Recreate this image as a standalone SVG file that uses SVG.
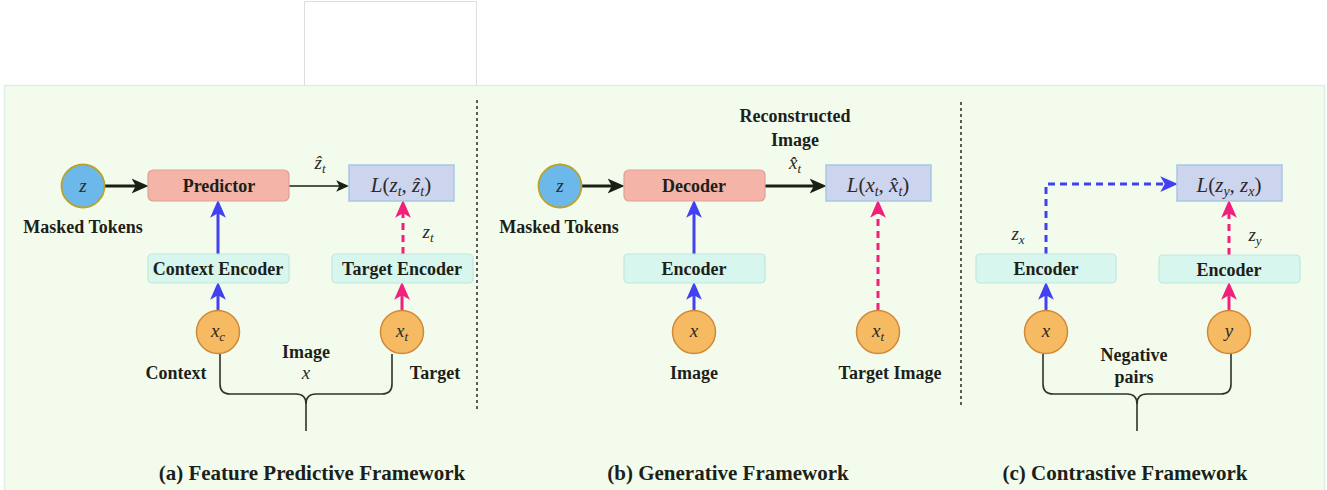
<svg xmlns="http://www.w3.org/2000/svg" width="1327" height="490" viewBox="0 0 1327 490">
<style>
.lbl{font-family:'Liberation Serif','Tinos','DejaVu Serif','Noto Serif',serif;font-weight:bold;font-size:18px;fill:#1c1f1a;text-anchor:middle}
.ttl{font-family:'Liberation Serif','Tinos','DejaVu Serif','Noto Serif',serif;font-weight:bold;font-size:21px;fill:#1c1f1a;text-anchor:middle}
.m{font-family:'Liberation Serif','Tinos','DejaVu Serif','Noto Serif',serif;font-style:italic;font-size:19px;fill:#2a2a2a;text-anchor:middle}
.lm{font-size:21px}
.up{font-style:normal}
.pred{fill:#f4b4a8;stroke:#dea095;stroke-width:1.2}
.enc{fill:#d6f6ee;stroke:#c0e6dc;stroke-width:1.2}
.loss{fill:#cdd4ee;stroke:#a6c8e2;stroke-width:1.5}
.zc{fill:#6cb8ea;stroke:#b9a32c;stroke-width:1.8}
.xc{fill:#f5ba62;stroke:#d0893a;stroke-width:1.5}
.blk{fill:none;stroke:#1a1f16;stroke-width:3}
.thin{fill:none;stroke:#1a1f16;stroke-width:1.3}
.blu{fill:none;stroke:#4141f0;stroke-width:3}
.pnk{fill:none;stroke:#f0207c;stroke-width:3}
.dash{stroke-dasharray:7 5}
.brace{fill:none;stroke:#2e3328;stroke-width:1.6}
.sep{fill:none;stroke:#1a1a1a;stroke-width:1.4;stroke-dasharray:3 3}
</style>
<defs>
<marker id="ab" markerUnits="userSpaceOnUse" viewBox="0 0 16 16" markerWidth="17" markerHeight="17" refX="6" refY="8" orient="auto"><path d="M0,1 L16,8 L0,15 L4,8 Z" fill="#1a1f16"/></marker>
<marker id="at" markerUnits="userSpaceOnUse" viewBox="0 0 16 16" markerWidth="13" markerHeight="13" refX="6" refY="8" orient="auto"><path d="M0,1 L16,8 L0,15 L4,8 Z" fill="#1a1f16"/></marker>
<marker id="au" markerUnits="userSpaceOnUse" viewBox="0 0 16 16" markerWidth="18" markerHeight="18" refX="6" refY="8" orient="auto"><path d="M0,1 L16,8 L0,15 L4,8 Z" fill="#4141f0"/></marker>
<marker id="ap" markerUnits="userSpaceOnUse" viewBox="0 0 16 16" markerWidth="18" markerHeight="18" refX="6" refY="8" orient="auto"><path d="M0,1 L16,8 L0,15 L4,8 Z" fill="#f0207c"/></marker>
</defs>

<rect x="304.5" y="1.5" width="172" height="84" fill="#ffffff" stroke="#dadfe0" stroke-width="1"/>
<rect x="4.5" y="85.5" width="1320" height="410" fill="#f3fcec" stroke="#dcefe2" stroke-width="1.5"/>

<line class="sep" x1="477" y1="100" x2="477" y2="410"/>
<line class="sep" x1="961" y1="102" x2="961" y2="408"/>

<g id="connectors">
<path class="blk" d="M105,186 H138" marker-end="url(#ab)"/>
<path class="thin" d="M289,186 H341" marker-end="url(#at)"/>
<path class="blu" d="M218,254 V211" marker-end="url(#au)"/>
<path class="blu" d="M218,310 V293" marker-end="url(#au)"/>
<path class="pnk dash" d="M403,254 V211" marker-end="url(#ap)"/>
<path class="pnk" d="M402,310 V293" marker-end="url(#ap)"/>
<path class="brace" d="M220,354 V384 Q220,394 230,394 H296 Q306,394 306,404 V431"/>
<path class="brace" d="M392,354 V384 Q392,394 382,394 H316 Q306,394 306,404"/>

<path class="blk" d="M582,186 H614" marker-end="url(#ab)"/>
<path class="blk" d="M765,186 H816" marker-end="url(#ab)"/>
<path class="blu" d="M694,254 V211" marker-end="url(#au)"/>
<path class="blu" d="M694,310 V293" marker-end="url(#au)"/>
<path class="pnk dash" d="M878,310 V211" marker-end="url(#ap)"/>

<path class="blu dash" d="M1046,254 V184 H1167" marker-end="url(#au)"/>
<path class="pnk dash" d="M1229,255 V211" marker-end="url(#ap)"/>
<path class="blu" d="M1046,310 V293" marker-end="url(#au)"/>
<path class="pnk" d="M1229,310 V293" marker-end="url(#ap)"/>
<path class="brace" d="M1043,354 V384 Q1043,394 1053,394 H1127 Q1137,394 1137,404 V431"/>
<path class="brace" d="M1231,354 V384 Q1231,394 1221,394 H1147 Q1137,394 1137,404"/>
</g>

<!-- (a) -->
<g id="a-z"><circle class="zc" cx="83" cy="186" r="21.5"/><text class="m" x="83" y="192">z</text></g>
<g id="a-masked"><text class="lbl" x="83" y="233">Masked Tokens</text></g>
<g id="a-predictor"><rect class="pred" x="148" y="170" width="141" height="31" rx="5"/><text class="lbl" x="219" y="192">Predictor</text></g>
<g id="a-zhat"><text class="m" x="320" y="169">ẑ<tspan font-size="13" dy="4">t</tspan></text></g>
<g id="a-loss"><rect class="loss" x="349" y="165" width="105" height="36"/><text class="m lm" x="401" y="192">L<tspan class="up">(</tspan>z<tspan font-size="14" dy="4">t</tspan><tspan dy="-4">, ẑ</tspan><tspan font-size="14" dy="4">t</tspan><tspan class="up" dy="-4">)</tspan></text></g>
<g id="a-zt"><text class="m" x="428" y="238">z<tspan font-size="13" dy="4">t</tspan></text></g>
<g id="a-ctxenc"><rect class="enc" x="148" y="254" width="141" height="29" rx="4"/><text class="lbl" x="218" y="275">Context Encoder</text></g>
<g id="a-tgtenc"><rect class="enc" x="332" y="254" width="141" height="29" rx="4"/><text class="lbl" x="402" y="275">Target Encoder</text></g>
<g id="a-xc"><circle class="xc" cx="218" cy="332" r="21.5"/><text class="m" x="218" y="337">x<tspan font-size="13" dy="4">c</tspan></text></g>
<g id="a-xt"><circle class="xc" cx="402" cy="332" r="21.5"/><text class="m" x="402" y="337">x<tspan font-size="13" dy="4">t</tspan></text></g>
<g id="a-labels">
<text class="lbl" x="176" y="379">Context</text>
<text class="lbl" x="306" y="358">Image</text>
<text class="m" x="306" y="379">x</text>
<text class="lbl" x="435" y="379">Target</text>
</g>
<g id="a-title"><text class="ttl" x="312" y="480">(a) Feature Predictive Framework</text></g>

<!-- (b) -->
<g id="b-z"><circle class="zc" cx="560" cy="186" r="21.5"/><text class="m" x="560" y="192">z</text></g>
<g id="b-masked"><text class="lbl" x="559" y="233">Masked Tokens</text></g>
<g id="b-decoder"><rect class="pred" x="624" y="170" width="141" height="31" rx="5"/><text class="lbl" x="694" y="192">Decoder</text></g>
<g id="b-recon"><text class="lbl" x="795" y="122">Reconstructed</text><text class="lbl" x="795" y="146">Image</text></g>
<g id="b-xhat"><text class="m" x="795" y="169">x̂<tspan font-size="13" dy="4">t</tspan></text></g>
<g id="b-loss"><rect class="loss" x="826" y="165" width="105" height="36"/><text class="m lm" x="878" y="192">L<tspan class="up">(</tspan>x<tspan font-size="14" dy="4">t</tspan><tspan dy="-4">, x̂</tspan><tspan font-size="14" dy="4">t</tspan><tspan class="up" dy="-4">)</tspan></text></g>
<g id="b-encoder"><rect class="enc" x="624" y="254" width="141" height="29" rx="4"/><text class="lbl" x="694" y="275">Encoder</text></g>
<g id="b-x"><circle class="xc" cx="694" cy="332" r="21.5"/><text class="m" x="694" y="337">x</text></g>
<g id="b-xt"><circle class="xc" cx="878" cy="332" r="21.5"/><text class="m" x="878" y="337">x<tspan font-size="13" dy="4">t</tspan></text></g>
<g id="b-labels"><text class="lbl" x="694" y="379">Image</text><text class="lbl" x="890" y="379">Target Image</text></g>
<g id="b-title"><text class="ttl" x="728" y="480">(b) Generative Framework</text></g>

<!-- (c) -->
<g id="c-loss"><rect class="loss" x="1177" y="165" width="105" height="36"/><text class="m lm" x="1229" y="192">L<tspan class="up">(</tspan>z<tspan font-size="14" dy="4">y</tspan><tspan dy="-4">, z</tspan><tspan font-size="14" dy="4">x</tspan><tspan class="up" dy="-4">)</tspan></text></g>
<g id="c-zx"><text class="m" x="1018" y="240">z<tspan font-size="13" dy="4">x</tspan></text></g>
<g id="c-zy"><text class="m" x="1255" y="241">z<tspan font-size="13" dy="4">y</tspan></text></g>
<g id="c-enc1"><rect class="enc" x="976" y="254" width="140" height="29" rx="4"/><text class="lbl" x="1046" y="275">Encoder</text></g>
<g id="c-enc2"><rect class="enc" x="1159" y="255" width="141" height="28" rx="4"/><text class="lbl" x="1229" y="276">Encoder</text></g>
<g id="c-x"><circle class="xc" cx="1046" cy="332" r="21.5"/><text class="m" x="1046" y="337">x</text></g>
<g id="c-y"><circle class="xc" cx="1229" cy="332" r="21.5"/><text class="m" x="1229" y="337">y</text></g>
<g id="c-labels"><text class="lbl" x="1134" y="361">Negative</text><text class="lbl" x="1134" y="383">pairs</text></g>
<g id="c-title"><text class="ttl" x="1125" y="480">(c) Contrastive Framework</text></g>
</svg>
